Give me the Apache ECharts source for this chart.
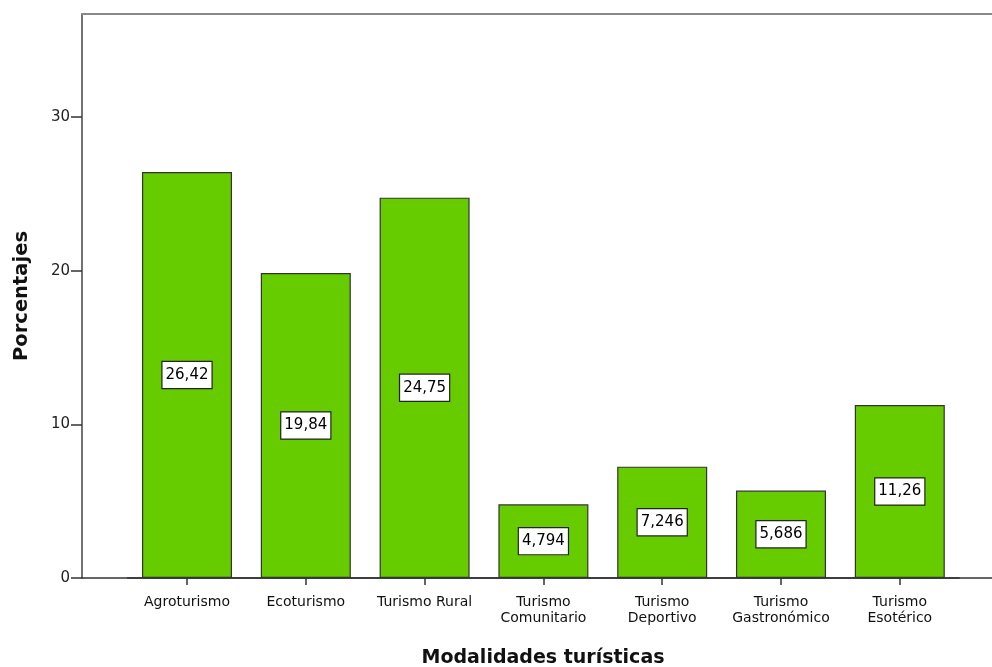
<!DOCTYPE html>
<html><head><meta charset="utf-8">
<script src="https://cdn.jsdelivr.net/npm/echarts@6/dist/echarts.min.js"></script>
<style>html,body{margin:0;padding:0;background:#fff}#c{width:992px;height:667px}</style>
</head><body><div id="c"></div>
<script>
const categories = ['Agroturismo','Ecoturismo','Turismo Rural','Turismo\nComunitario','Turismo\nDeportivo','Turismo\nGastronómico','Turismo\nEsotérico'];
const values = [26.42, 19.84, 24.75, 4.794, 7.246, 5.686, 11.26];
const yTicks = [0, 10, 20, 30];
const yMax = 36.7;

const chart = echarts.init(document.getElementById('c'));
const fam = '"DejaVu Sans", Verdana, sans-serif';
chart.setOption({
  animation: false,
  grid: [
    {left: 127.6, width: 831.6, top: 14, bottom: 89, outerBoundsMode: 'none', containLabel: false},
    {left: 82, right: -12, top: 14, bottom: 89, outerBoundsMode: 'none', containLabel: false}
  ],
  xAxis: [
    {type: 'category', gridIndex: 0, data: categories,
     axisLine: {show: true, lineStyle: {color: '#333', width: 1.5}},
     axisTick: {show: true, alignWithLabel: true, length: 7, lineStyle: {color: '#333', width: 1.5}},
     axisLabel: {color: '#111', fontFamily: fam, fontSize: 14, lineHeight: 16, margin: 16, interval: 0}},
    {type: 'value', gridIndex: 1, min: 0, max: 1, position: 'bottom',
     axisLine: {show: true, onZero: false, lineStyle: {color: '#333', width: 1.5}},
     axisTick: {show: false}, axisLabel: {show: false}, splitLine: {show: false},
     name: 'Modalidades turísticas', nameLocation: 'middle', nameGap: 71,
     nameTextStyle: {fontFamily: fam, fontWeight: 'bold', fontSize: 19, color: '#111'}},
    {type: 'value', gridIndex: 1, min: 0, max: 1, position: 'top',
     axisLine: {show: true, onZero: false, lineStyle: {color: '#888', width: 2}},
     axisTick: {show: false}, axisLabel: {show: false}, splitLine: {show: false}}
  ],
  yAxis: [
    {type: 'value', gridIndex: 0, min: 0, max: yMax, show: false, splitLine: {show: false}},
    {type: 'value', gridIndex: 1, min: 0, max: yMax, interval: 10,
     axisLine: {show: true, onZero: false, lineStyle: {color: '#444', width: 1.5}},
     axisTick: {show: true, length: 11, customValues: yTicks, lineStyle: {color: '#333', width: 1.5}},
     axisLabel: {color: '#222', fontFamily: fam, fontSize: 15, margin: 12, customValues: yTicks},
     splitLine: {show: false},
     name: 'Porcentajes', nameLocation: 'middle', nameGap: 50,
     nameTextStyle: {fontFamily: fam, fontWeight: 'bold', fontSize: 19.5, color: '#111'}}
  ],
  series: [{
    type: 'bar', xAxisIndex: 0, yAxisIndex: 0, data: values, barWidth: 90,
    itemStyle: {color: '#66cc00', borderColor: '#333', borderWidth: 1.2},
    label: {show: true, position: 'inside', color: '#000', fontFamily: fam, fontSize: 15,
      backgroundColor: '#fff', borderColor: '#222', borderWidth: 1.2, padding: [6, 3, 5, 3],
      formatter: p => String(p.value).replace('.', ',')}
  }]
});
</script></body></html>
